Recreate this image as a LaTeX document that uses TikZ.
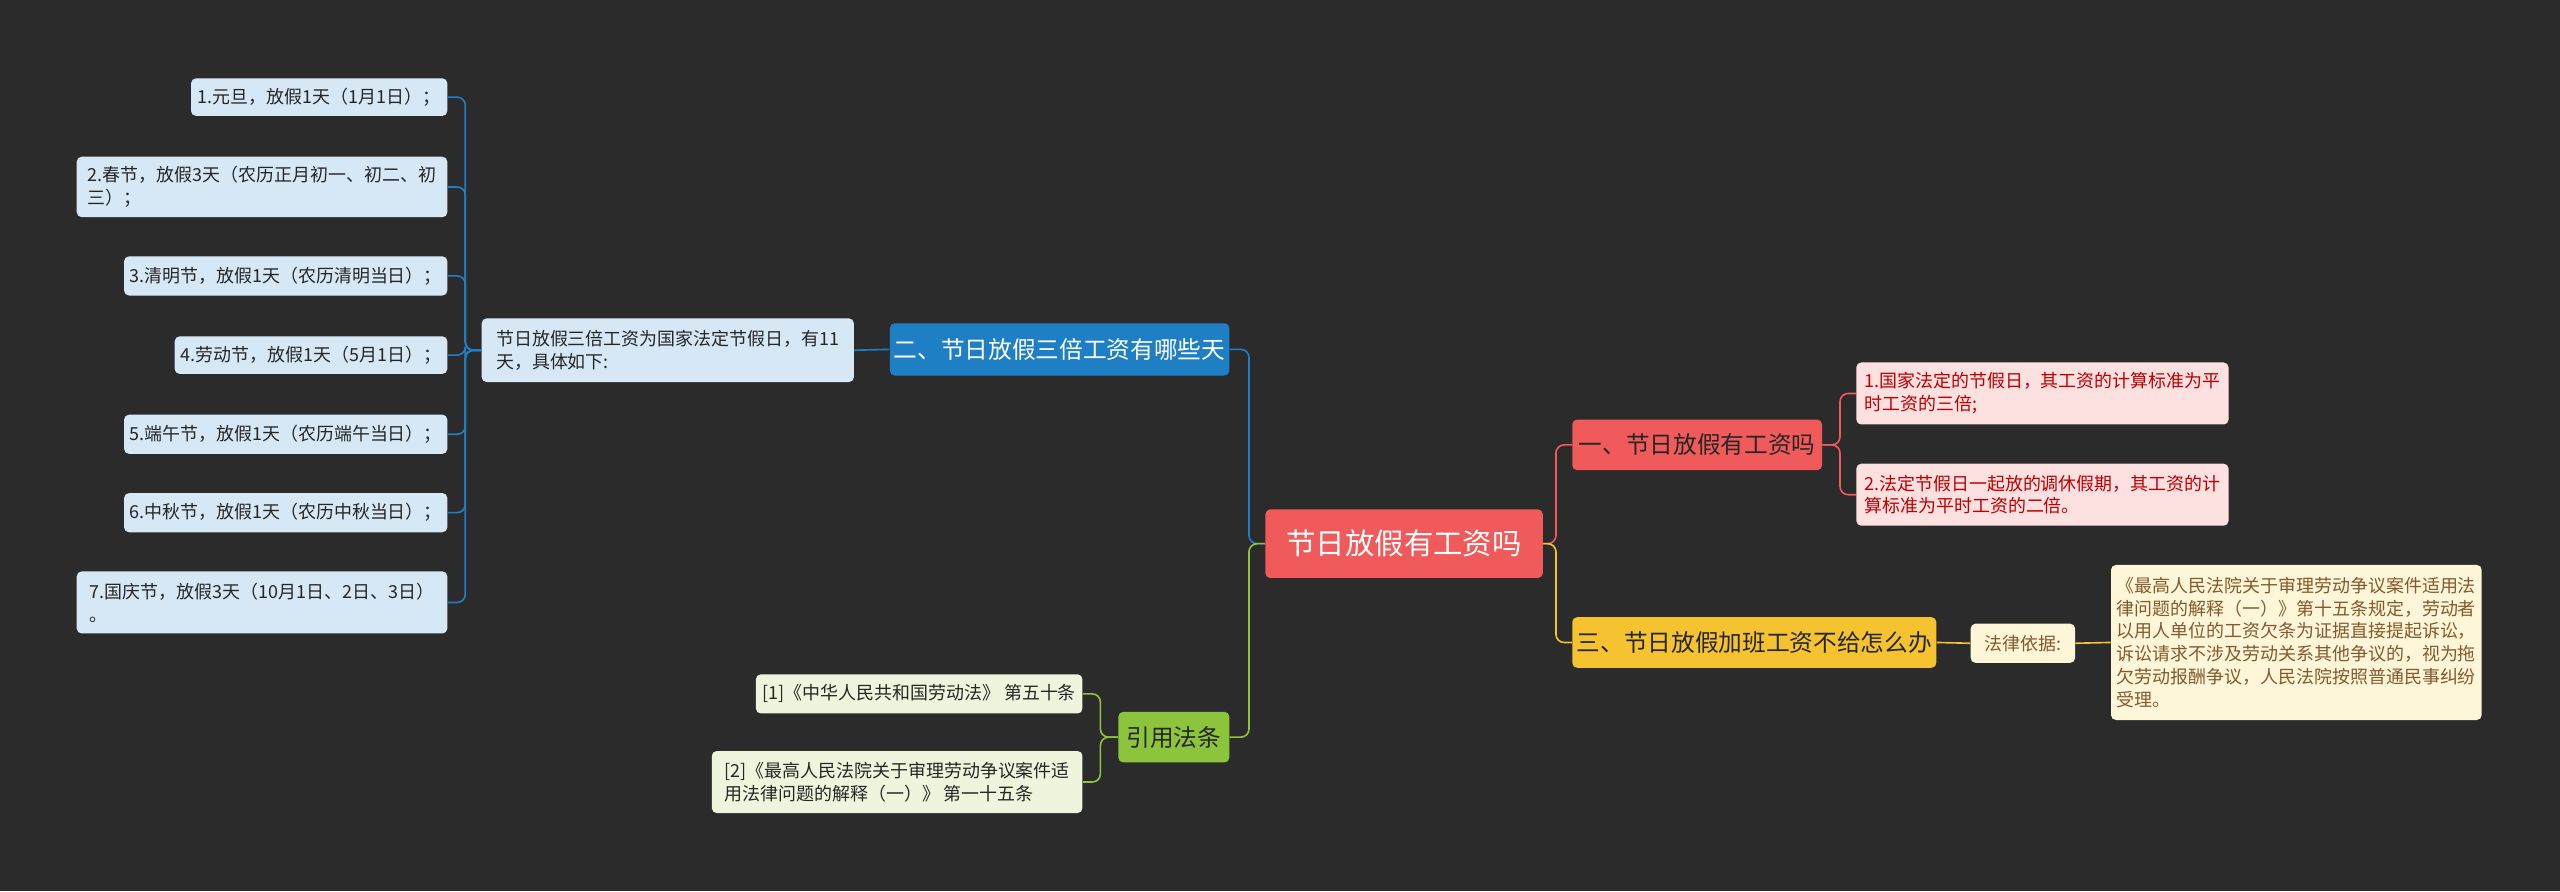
\documentclass[tikz,border=0pt]{standalone}
\usepackage{fontspec}
\setmainfont{Noto Sans CJK SC}
\begin{document}
\begin{tikzpicture}[x=1pt,y=1pt,
 box/.style={rounded corners=3pt,inner sep=2pt,align=left,font=\fontsize{11}{14}\selectfont},
 bl/.style={draw=blue!60!cyan!80!black,line width=1pt,rounded corners=5pt},
 rl/.style={draw=red!70!white,line width=1pt,rounded corners=5pt},
 yl/.style={draw=yellow!80!orange,line width=1pt,rounded corners=5pt},
 gl/.style={draw=green!60!olive,line width=1pt,rounded corners=5pt}]
\definecolor{bg}{HTML}{2B2B2B}
\definecolor{cred}{HTML}{F05A5A}
\definecolor{cblue}{HTML}{1F7FC4}
\definecolor{cyel}{HTML}{F5C230}
\definecolor{cgrn}{HTML}{8CC43C}
\definecolor{lblue}{HTML}{D6E8F5}
\definecolor{lpink}{HTML}{FDE0E0}
\definecolor{lyel}{HTML}{FDF6D8}
\definecolor{lgrn}{HTML}{EEF5DC}
\fill[bg] (0,0) rectangle (1568,-546);
\useasboundingbox (0,0) rectangle (1568,-546);
\tikzset{bl/.append style={draw=cblue},rl/.append style={draw=cred},yl/.append style={draw=cyel},gl/.append style={draw=cgrn}}
% center
\node[box,fill=cred,text=white,minimum width=170,minimum height=42,font=\fontsize{18}{22}\selectfont] (c) at (860,-333) {节日放假有工资吗};
% blue branch
\node[box,fill=cblue,text=white,minimum width=208,minimum height=32,font=\fontsize{14.5}{18}\selectfont] (b2) at (649,-214) {二、节日放假三倍工资有哪些天};
\node[box,fill=lblue,text=black!85,minimum width=228,minimum height=39] (d) at (409,-214.5) {节日放假三倍工资为国家法定节假日，有11\\天，具体如下:};
\node[box,fill=lblue,text=black!85,minimum width=157,minimum height=23] (l1) at (195.5,-59.5) {1.元旦，放假1天（1月1日）；};
\node[box,fill=lblue,text=black!85,minimum width=227,minimum height=37] (l2) at (160.5,-114.5) {2.春节，放假3天（农历正月初一、初二、初\\三）；};
\node[box,fill=lblue,text=black!85,minimum width=198,minimum height=24] (l3) at (175,-169) {3.清明节，放假1天（农历清明当日）；};
\node[box,fill=lblue,text=black!85,minimum width=167,minimum height=23] (l4) at (190.5,-217.5) {4.劳动节，放假1天（5月1日）；};
\node[box,fill=lblue,text=black!85,minimum width=198,minimum height=24] (l5) at (175,-266) {5.端午节，放假1天（农历端午当日）；};
\node[box,fill=lblue,text=black!85,minimum width=198,minimum height=24] (l6) at (175,-314) {6.中秋节，放假1天（农历中秋当日）；};
\node[box,fill=lblue,text=black!85,minimum width=227,minimum height=38] (l7) at (160.5,-369) {7.国庆节，放假3天（10月1日、2日、3日）\\。};
% red branch
\node[box,fill=cred,text=black!85,minimum width=153,minimum height=31,font=\fontsize{14.5}{18}\selectfont] (b1) at (1039.5,-272.5) {一、节日放假有工资吗};
\node[box,fill=lpink,text=red!75!black,minimum width=228,minimum height=38] (r1) at (1251,-241) {1.国家法定的节假日，其工资的计算标准为平\\时工资的三倍;};
\node[box,fill=lpink,text=red!75!black,minimum width=228,minimum height=38] (r2) at (1251,-303) {2.法定节假日一起放的调休假期，其工资的计\\算标准为平时工资的二倍。};
% yellow branch
\node[box,fill=cyel,text=black!85,minimum width=223,minimum height=31,font=\fontsize{14.5}{18}\selectfont] (b3) at (1074.5,-393.5) {三、节日放假加班工资不给怎么办};
\node[box,fill=lyel,text=brown!70!black,minimum width=64,minimum height=24] (y1) at (1239,-394) {法律依据:};
\node[box,fill=lyel,text=brown!70!black,minimum width=227,minimum height=95] (y2) at (1406.5,-393.5) {《最高人民法院关于审理劳动争议案件适用法\\律问题的解释（一）》第十五条规定，劳动者\\以用人单位的工资欠条为证据直接提起诉讼，\\诉讼请求不涉及劳动关系其他争议的，视为拖\\欠劳动报酬争议，人民法院按照普通民事纠纷\\受理。};
% green branch
\node[box,fill=cgrn,text=black!85,minimum width=68,minimum height=31,font=\fontsize{14.5}{18}\selectfont] (b4) at (719,-451.5) {引用法条};
\node[box,fill=lgrn,text=black!85,minimum width=200,minimum height=24] (g1) at (563,-425) {[1]《中华人民共和国劳动法》 第五十条};
\node[box,fill=lgrn,text=black!85,minimum width=227,minimum height=38] (g2) at (549.5,-479) {[2]《最高人民法院关于审理劳动争议案件适\\用法律问题的解释（一）》 第一十五条};
% connectors
\coordinate (jl) at (765,-333);
\coordinate (jr) at (953,-333);
\draw[bl] (c.west) -- (jl) |- (b2.east);
\draw[gl] (c.west) -- (jl) |- (b4.east);
\draw[bl] (b2.west) -- (d.east);
\coordinate (jd) at (285,-214.5);
\foreach \n in {l1,l2,l3,l4,l5,l6,l7} \draw[bl] (d.west) -- (jd) |- (\n.east);
\draw[rl] (c.east) -- (jr) |- (b1.west);
\draw[yl] (c.east) -- (jr) |- (b3.west);
\coordinate (jb1) at (1127,-272.5);
\draw[rl] (b1.east) -- (jb1) |- (r1.west);
\draw[rl] (b1.east) -- (jb1) |- (r2.west);
\draw[yl] (b3.east) -- (y1.west);
\draw[yl] (y1.east) -- (y2.west);
\coordinate (jg) at (674,-451.5);
\draw[gl] (b4.west) -- (jg) |- (g1.east);
\draw[gl] (b4.west) -- (jg) |- (g2.east);
\end{tikzpicture}
\end{document}
